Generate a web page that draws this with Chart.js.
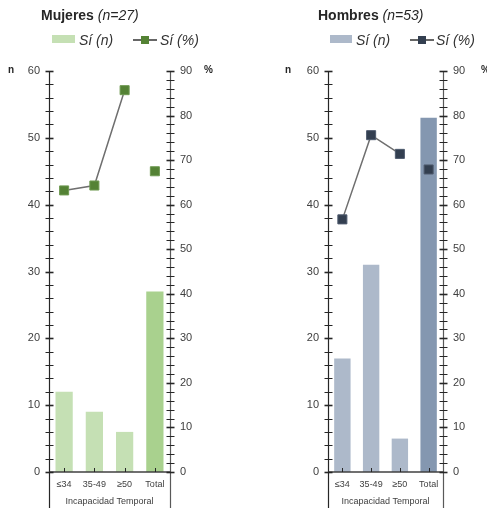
<!DOCTYPE html>
<html><head><meta charset="utf-8">
<script src="https://cdn.jsdelivr.net/npm/chart.js@4.4.0/dist/chart.umd.min.js"></script>
<style>
body{margin:0;background:#fff;font-family:"Liberation Sans",Arial,sans-serif;color:#262626}
#wrap{position:relative;width:487px;height:508px;overflow:hidden}
canvas{position:absolute;top:0}
.t{position:absolute;white-space:nowrap;line-height:16px}
.title{font-size:14px;font-weight:bold;color:#262626}
.title i{font-weight:normal}
.leg{font-size:14px;font-style:italic;color:#333333}
.sw{position:absolute;height:8px}
.ln{position:absolute;height:2px;background:#666666}
.mk{position:absolute;width:8px;height:8px}
.ax{position:absolute;font-size:10px;font-weight:bold;line-height:14px;color:#262626}
</style>
</head><body>
<div id="wrap">
  <canvas id="cM" width="243" height="508" style="left:0"></canvas>
  <canvas id="cH" width="244" height="508" style="left:243px"></canvas>

  <div class="t title" style="left:41px;top:7px">Mujeres <i>(n=27)</i></div>
  <div class="sw" style="left:52px;top:35px;width:23px;background:#c5e0b4"></div>
  <div class="t leg" style="left:79px;top:32px">Sí (n)</div>
  <div class="ln" style="left:133px;top:39px;width:24px"></div>
  <div class="mk" style="left:141px;top:36px;background:#548235"></div>
  <div class="t leg" style="left:160px;top:32px">Sí (%)</div>
  <div class="ax" style="left:8px;top:63px">n</div>
  <div class="ax" style="left:204px;top:63px">%</div>

  <div class="t title" style="left:318px;top:7px">Hombres <i>(n=53)</i></div>
  <div class="sw" style="left:330px;top:35px;width:22px;background:#adb9ca"></div>
  <div class="t leg" style="left:356px;top:32px">Sí (n)</div>
  <div class="ln" style="left:410px;top:39px;width:24px"></div>
  <div class="mk" style="left:418px;top:36px;background:#333f50"></div>
  <div class="t leg" style="left:436px;top:32px">Sí (%)</div>
  <div class="ax" style="left:285px;top:63px">n</div>
  <div class="ax" style="left:481px;top:63px">%</div>
</div>
<script>
const categories = ['≤34', '35-49', '≥50', 'Total'];
const mujeresN = [12, 9, 6, 27];
const mujeresPct = [63.2, 64.3, 85.7, 67.5];
const hombresN = [17, 31, 5, 53];
const hombresPct = [56.7, 75.6, 71.4, 67.9];
const nAxis = [0, 60];
const pctAxis = [0, 90];
const axisTitle = 'Incapacidad Temporal';

const axisDeco = {
  id: 'axisDeco',
  afterDatasetsDraw(chart) {
    const ctx = chart.ctx, a = chart.chartArea;
    const H = chart.height;
    const yl = chart.scales.y, yr = chart.scales.y1, xs = chart.scales.x;
    const L = Math.round(a.left) + 0.5, R = Math.round(a.right) + 0.5, B = Math.round(a.bottom);
    ctx.save();
    ctx.lineWidth = 1.2;
    ctx.strokeStyle = '#262626';
    ctx.beginPath(); ctx.moveTo(L, a.top); ctx.lineTo(L, H); ctx.stroke();
    ctx.strokeStyle = '#595959';
    ctx.beginPath(); ctx.moveTo(R, a.top); ctx.lineTo(R, H); ctx.stroke();
    ctx.strokeStyle = '#404040';
    ctx.lineWidth = 1.5;
    ctx.beginPath(); ctx.moveTo(L, B); ctx.lineTo(R, B); ctx.stroke();
    ctx.strokeStyle = '#262626';
    const tickSet = (scale, x) => {
      scale.ticks.forEach(t => {
        const y = Math.round(scale.getPixelForValue(t.value)) + 0.5;
        ctx.lineWidth = (t.value % 10 === 0) ? 1.6 : 1;
        ctx.beginPath(); ctx.moveTo(x - 4, y); ctx.lineTo(x + 4, y); ctx.stroke();
      });
    };
    tickSet(yl, L);
    tickSet(yr, R);
    ctx.lineWidth = 1;
    categories.forEach((c, i) => {
      const x = Math.round(xs.getPixelForValue(i)) + 0.5;
      ctx.beginPath(); ctx.moveTo(x, B); ctx.lineTo(x, B - 4); ctx.stroke();
    });
    ctx.restore();
  }
};

function makeChart(id, nData, pctData, barColors, markColor, markBorder, leftW, rightW) {
  return new Chart(document.getElementById(id), {
    type: 'bar',
    data: {
      labels: categories,
      datasets: [
        {
          type: 'line', label: 'Sí (%)', data: pctData, yAxisID: 'y1', order: 0,
          borderColor: '#6f6f6f', borderWidth: 1.5, fill: false, tension: 0,
          pointStyle: 'rect', pointRadius: 6.4, pointBackgroundColor: markColor,
          pointBorderColor: markBorder, pointBorderWidth: 1,
          segment: { borderColor: c => c.p1DataIndex === 3 ? 'rgba(0,0,0,0)' : undefined }
        },
        {
          type: 'bar', label: 'Sí (n)', data: nData, yAxisID: 'y', order: 1,
          backgroundColor: barColors, borderWidth: 0,
          barPercentage: 0.57, categoryPercentage: 1
        }
      ]
    },
    options: {
      responsive: false, animation: false, devicePixelRatio: 1,
      layout: { padding: { top: 71, bottom: 0, left: 0, right: 0 } },
      plugins: { legend: { display: false }, tooltip: { enabled: false }, title: { display: false } },
      scales: {
        x: {
          grid: { display: false, drawTicks: false }, border: { display: false },
          ticks: { font: { size: 9, family: 'Liberation Sans' }, color: '#404040', padding: 7, maxRotation: 0, autoSkip: false },
          title: { display: true, text: axisTitle, font: { size: 9, family: 'Liberation Sans' }, color: '#404040', padding: { top: 0, bottom: 1 } },
          afterFit(s) { s.height = 36; }
        },
        y: {
          position: 'left', min: nAxis[0], max: nAxis[1],
          grid: { display: false, drawTicks: false }, border: { display: false },
          ticks: { stepSize: 2, autoSkip: false, callback: v => v % 10 === 0 ? v : '', font: { size: 11, family: 'Liberation Sans' }, color: '#404040', padding: 9 },
          afterFit(s) { s.width = leftW; }
        },
        y1: {
          position: 'right', min: pctAxis[0], max: pctAxis[1],
          grid: { display: false, drawTicks: false }, border: { display: false },
          ticks: { stepSize: 2, autoSkip: false, callback: v => v % 10 === 0 ? v : '', font: { size: 11, family: 'Liberation Sans' }, color: '#404040', padding: 10 },
          afterFit(s) { s.width = rightW; }
        }
      }
    },
    plugins: [axisDeco]
  });
}

makeChart('cM', mujeresN, mujeresPct, ['#c5e0b4', '#c5e0b4', '#c5e0b4', '#a9d18e'], '#548235', '#6f9a52', 49, 73);
makeChart('cH', hombresN, hombresPct, ['#adb9ca', '#adb9ca', '#adb9ca', '#8497b0'], '#333f50', '#4f5b6e', 85, 44);
</script>
</body></html>
